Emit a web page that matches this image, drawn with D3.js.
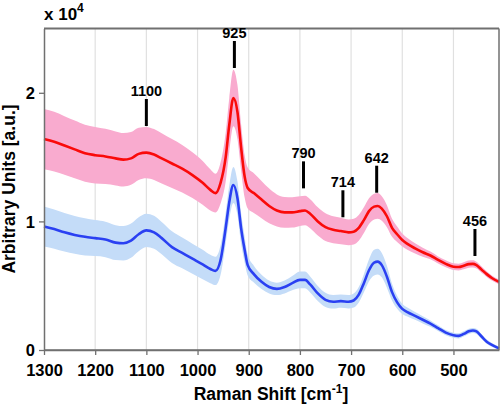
<!DOCTYPE html>
<html>
<head>
<meta charset="utf-8">
<script src="https://cdn.jsdelivr.net/npm/d3@7"></script>
<style>
  html, body { margin: 0; padding: 0; background: #fff; }
  svg { display: block; font-family: "Liberation Sans", Arial, Helvetica, sans-serif; font-weight: bold; }
</style>
</head>
<body>
<svg id="chart" width="501" height="408"></svg>
<script>
// Raman shift (cm^-1)
const shift = [1300,1280,1260,1240,1220,1200,1180,1160,1145,1130,1115,1100,1085,1070,1050,1030,1010,990,975,965,955,945,938,930,922,915,908,902,890,875,860,845,830,815,800,790,780,765,750,735,720,705,695,685,675,665,655,648,640,630,620,610,600,590,575,560,545,530,515,500,490,480,470,462,455,445,435,425,411];
// Red spectrum mean (a.u.)
const redMean = [16400,16200,15900,15600,15300,15150,15050,14900,14800,14900,15250,15350,15200,14900,14500,14100,13600,13000,12450,12200,13000,15000,17500,19600,18500,15800,13500,12600,12200,11700,11200,10850,10700,10700,10800,10850,10600,10000,9550,9350,9250,9150,9200,9500,10100,10800,11150,11200,11000,10400,9500,9000,8550,8250,7900,7600,7350,7000,6700,6480,6450,6550,6680,6700,6600,6250,5900,5600,5300];
// Red spectrum standard deviation
const redStd = [2350,2320,2280,2250,2220,2200,2150,2100,2080,2050,2030,2000,1980,1950,1900,1850,1780,1700,1600,1500,1600,1900,2100,2200,2100,1800,1650,1600,1550,1450,1350,1250,1200,1180,1150,1150,1130,1100,1080,1050,1030,1000,1000,1000,1000,1000,1000,1000,950,850,700,600,500,450,400,350,300,280,270,260,260,270,280,280,270,250,220,200,180];
// Blue spectrum mean (a.u.)
const blueMean = [9600,9400,9150,8950,8800,8700,8600,8350,8300,8500,9000,9300,9150,8700,8000,7550,7100,6650,6300,6150,7000,9500,11500,12830,11800,9500,7800,6600,5900,5300,4900,4750,4900,5200,5450,5450,5100,4400,3900,3750,3800,3750,3850,4300,5200,6200,6800,6870,6600,5700,4500,3700,3200,2950,2650,2350,2050,1700,1350,1150,1100,1250,1450,1520,1450,1050,650,400,130];
// Blue spectrum standard deviation
const blueStd = [1550,1520,1500,1470,1450,1400,1380,1360,1340,1330,1320,1300,1280,1260,1230,1200,1170,1140,1100,1100,1150,1200,1300,1400,1300,1200,1000,800,650,550,500,480,500,550,650,650,620,580,550,530,520,520,550,600,700,850,1000,1000,950,850,650,500,400,350,300,280,250,220,200,200,200,200,200,200,200,180,160,150,140];

// Peak annotations
const peakLabels = ["1100","925","790","714","642","456"];
const peakShift  = [1100, 928, 793, 716, 650, 458];
const peakLevel  = [17420, 21930, 12570, 10320, 12230, 7310]; // lower end of marker line (a.u.)

const xTicks = [1300,1200,1100,1000,900,800,700,600,500];
const xGrid  = [1200,1100,1000,900,800,700,600,500];
const yTicks = [0,10000,20000];

const svg = d3.select("#chart");
const L = 44, R = 499, T = 28.5, B = 350;
const x = d3.scaleLinear().domain([1300, 411]).range([L, R]);
const y = d3.scaleLinear().domain([0, 25000]).range([B, T]);

const data = shift.map((s,i)=>({s, rm:redMean[i], rs:redStd[i], bm:blueMean[i], bs:blueStd[i]}));

// grid
svg.append("g").selectAll("line").data(xGrid).join("line")
  .attr("x1", d=>x(d)).attr("x2", d=>x(d)).attr("y1", T).attr("y2", B)
  .attr("stroke", "#e0e0e0").attr("stroke-width", 1.2);

const curve = d3.curveMonotoneX;
const area = (m, s) => d3.area().curve(curve).x(d=>x(d.s)).y0(d=>y(d[m]-d[s])).y1(d=>y(d[m]+d[s]));
const line = (m) => d3.line().curve(curve).x(d=>x(d.s)).y(d=>y(d[m]));

svg.append("path").datum(data).attr("d", area("bm","bs")).attr("fill", "#c4dcf8");
svg.append("path").datum(data).attr("d", area("rm","rs")).attr("fill", "#f9abcf");
svg.append("path").datum(data).attr("d", line("bm")).attr("fill","none").attr("stroke","#2a40f2").attr("stroke-width",2.6);
svg.append("path").datum(data).attr("d", line("rm")).attr("fill","none").attr("stroke","#fa0a0a").attr("stroke-width",2.6);

// frame
const frame = svg.append("g").attr("stroke", "#707070").attr("fill","none");
frame.append("line").attr("x1", L).attr("x2", R).attr("y1", T).attr("y2", T).attr("stroke-width", 2);
frame.append("line").attr("x1", R).attr("x2", R).attr("y1", T).attr("y2", B).attr("stroke-width", 1.5);

// axes
const xAxis = svg.append("g").attr("transform", `translate(0,${B})`)
  .call(d3.axisBottom(x).tickValues(xTicks).tickSize(5).tickSizeOuter(0).tickPadding(9).tickFormat(d3.format("d")));
const yAxis = svg.append("g").attr("transform", `translate(${L},0)`)
  .call(d3.axisLeft(y).tickValues(yTicks).tickSize(5).tickSizeOuter(0).tickPadding(4).tickFormat(d=>d/10000));
[xAxis, yAxis].forEach(g=>{
  g.select(".domain").attr("stroke","#707070").attr("stroke-width",1.5);
  g.selectAll(".tick line").attr("stroke","#707070").attr("stroke-width",1.3);
  g.selectAll("text").attr("fill","#000").style("font-size","16.5px").style("font-weight","bold")
    .style("font-family",'"Liberation Sans", Arial, sans-serif');
});
yAxis.selectAll("text").attr("dy","0.36em");

// extend x axis line to the right edge
svg.append("line").attr("x1", L).attr("x2", R).attr("y1", B).attr("y2", B).attr("stroke","#707070").attr("stroke-width",1.5);

// peak annotations
const ann = svg.append("g");
peakLabels.forEach((lab,i)=>{
  const px = x(peakShift[i]);
  const yb = y(peakLevel[i]);
  ann.append("line").attr("x1",px).attr("x2",px).attr("y1",yb).attr("y2",yb-27)
    .attr("stroke","#000").attr("stroke-width",3);
  ann.append("text").attr("x",px).attr("y",yb-30).attr("text-anchor","middle")
    .style("font-size","14.5px").attr("fill","#000").text(lab);
});

// exponent label
const ex = svg.append("text").attr("x", 44).attr("y", 20).style("font-size","17px").attr("fill","#000");
ex.append("tspan").text("x 10");
ex.append("tspan").attr("dy", -8).style("font-size","12px").text("4");

// axis titles
const xt = svg.append("text").attr("x", 271).attr("y", 400).attr("text-anchor","middle").style("font-size","17.5px").attr("fill","#000");
xt.append("tspan").text("Raman Shift [cm");
xt.append("tspan").attr("dy",-7).style("font-size","12px").text("-1");
xt.append("tspan").attr("dy",7).text("]");

svg.append("text").attr("transform", "translate(15,189) rotate(-90)").attr("text-anchor","middle")
  .style("font-size","17.5px").attr("fill","#000").text("Arbitrary Units [a.u.]");
</script>
</body>
</html>
